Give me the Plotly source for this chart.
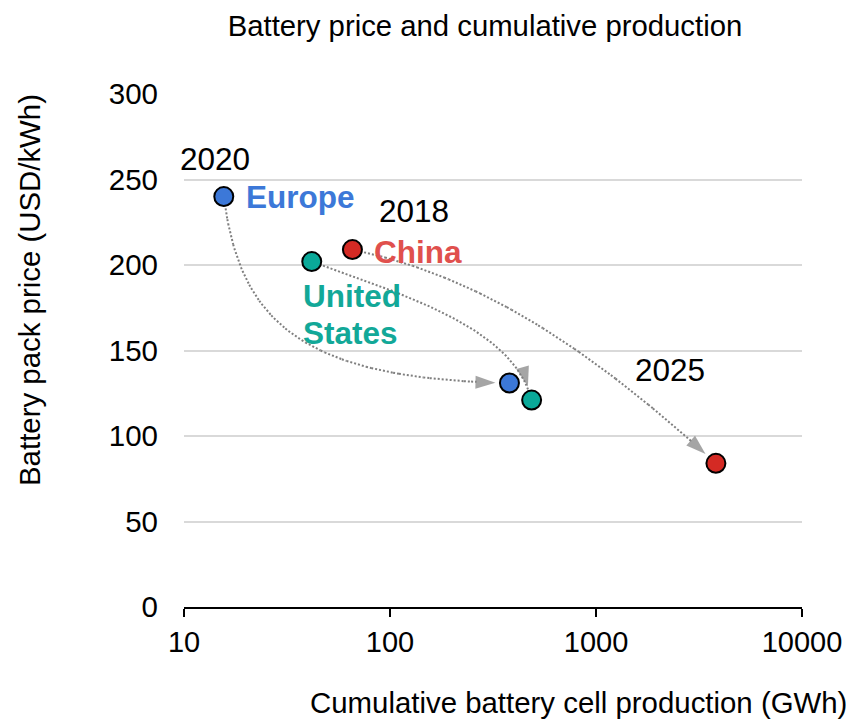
import numpy as np
import plotly.graph_objects as go

# data
regions = ["Europe", "United States", "China"]
prod_start = [15.6, 41.7, 65.7]      # GWh, first year
price_start = [240, 202, 209]        # USD/kWh
prod_2025 = [380, 487, 3820]
price_2025 = [131, 121, 84]
marker_colors = ["#3C78D8", "#0AA999", "#D42A24"]
label_colors = ["#3C78D8", "#12A898", "#E0504D"]
x_ticks = [10, 100, 1000, 10000]
y_ticks = [0, 50, 100, 150, 200, 250, 300]

# bend of each arrow: control points as fractions of the start->end span (log x, y)
bends = [
    [(0.055, 0.66), (0.26, 0.98)],
    [(0.48, 0.27), (0.92, 0.50)],
    [(0.34, 0.12), (0.64, 0.44)],
]

FONT = "Arial, Liberation Sans, sans-serif"
GREY = "#7F7F7F"


def curve(i, n=80):
    x0, x1 = np.log10(prod_start[i]), np.log10(prod_2025[i])
    y0, y1 = price_start[i], price_2025[i]
    (a1, b1), (a2, b2) = bends[i]
    px = [x0, x0 + a1 * (x1 - x0), x0 + a2 * (x1 - x0), x1]
    py = [y0, y0 + b1 * (y1 - y0), y0 + b2 * (y1 - y0), y1]
    t = np.linspace(0, 1, n)
    w = [(1 - t) ** 3, 3 * (1 - t) ** 2 * t, 3 * (1 - t) * t ** 2, t ** 3]
    lx = sum(wk * p for wk, p in zip(w, px))
    ly = sum(wk * p for wk, p in zip(w, py))
    return 10 ** lx, ly


fig = go.Figure()

# dotted arrows
for i in range(len(regions)):
    cx, cy = curve(i)
    n = len(cx)
    fig.add_trace(go.Scatter(
        x=cx, y=cy, mode="lines+markers",
        line=dict(color=GREY, width=2, dash="2px,2px"),
        marker=dict(symbol="arrow", size=[0] * (n - 1) + [21],
                    standoff=[0] * (n - 1) + [14], angleref="previous",
                    color=GREY, line=dict(width=0)),
        hoverinfo="skip", showlegend=False))

# points
for i, r in enumerate(regions):
    fig.add_trace(go.Scatter(
        x=[prod_start[i], prod_2025[i]], y=[price_start[i], price_2025[i]],
        mode="markers", name=r,
        marker=dict(size=19, color=marker_colors[i], line=dict(color="black", width=2)),
        showlegend=False))

# region labels (one annotation per text line)
label_lines = [(0, "Europe", 20, 0), (1, "United", -11, -34), (1, "States", -11, -71),
               (2, "China", 20, -2)]
for i, txt, dx, dy in label_lines:
    fig.add_annotation(
        x=np.log10(prod_start[i]), y=price_start[i], text="<b>%s</b>" % txt,
        showarrow=False, xanchor="left", yanchor="middle",
        xshift=dx, yshift=dy,
        font=dict(family=FONT, size=31.5, color=label_colors[i]))

# year labels
years = [("2020", 0, prod_start, price_start, -9, 38),
         ("2018", 2, prod_start, price_start, 62, 39),
         ("2025", 2, prod_2025, price_2025, -46, 93)]
for txt, i, xs, ys, dx, dy in years:
    fig.add_annotation(
        x=np.log10(xs[i]), y=ys[i], text=txt, showarrow=False,
        xanchor="center", yanchor="middle", xshift=dx, yshift=dy,
        font=dict(family=FONT, size=31.5, color="black"))

# axis titles
fig.add_annotation(
    xref="paper", yref="paper", x=0.638, y=-0.187, text="Cumulative battery cell production (GWh)",
    showarrow=False, xanchor="center", yanchor="middle",
    font=dict(family=FONT, size=29.4, color="black"))
fig.add_annotation(
    xref="paper", yref="paper", x=-0.25, y=0.617, text="Battery pack price (USD/kWh)",
    textangle=-90, showarrow=False, xanchor="center", yanchor="middle",
    font=dict(family=FONT, size=29.4, color="black"))

# page body has an 8px margin, so the figure is sized and placed to compensate
fig.update_layout(
    width=846, height=712,
    margin=dict(l=176, r=46, t=86, b=113, pad=0),
    plot_bgcolor="white", paper_bgcolor="white",
    font=dict(family=FONT, size=29, color="black"),
    title=dict(text="Battery price and cumulative production", x=0.5638, xanchor="center",
               y=0.989, yanchor="top", font=dict(family=FONT, size=29.3, color="black")),
    showlegend=False,
)
fig.update_xaxes(
    type="log", range=[1, 4], tickvals=x_ticks, ticktext=[str(v) for v in x_ticks],
    showgrid=False, zeroline=False, showline=True, linecolor="black", linewidth=1.5,
    ticks="outside", ticklen=8, tickwidth=1.5, tickcolor="black",
    tickfont=dict(size=29), ticklabelstandoff=0)
fig.update_yaxes(
    range=[0, 300], tickvals=y_ticks, showgrid=True, gridcolor="#D9D9D9", gridwidth=2,
    zeroline=False, showline=False, ticks="", tickfont=dict(size=29.5), ticklabelstandoff=25)

fig.write_html("out.html")
